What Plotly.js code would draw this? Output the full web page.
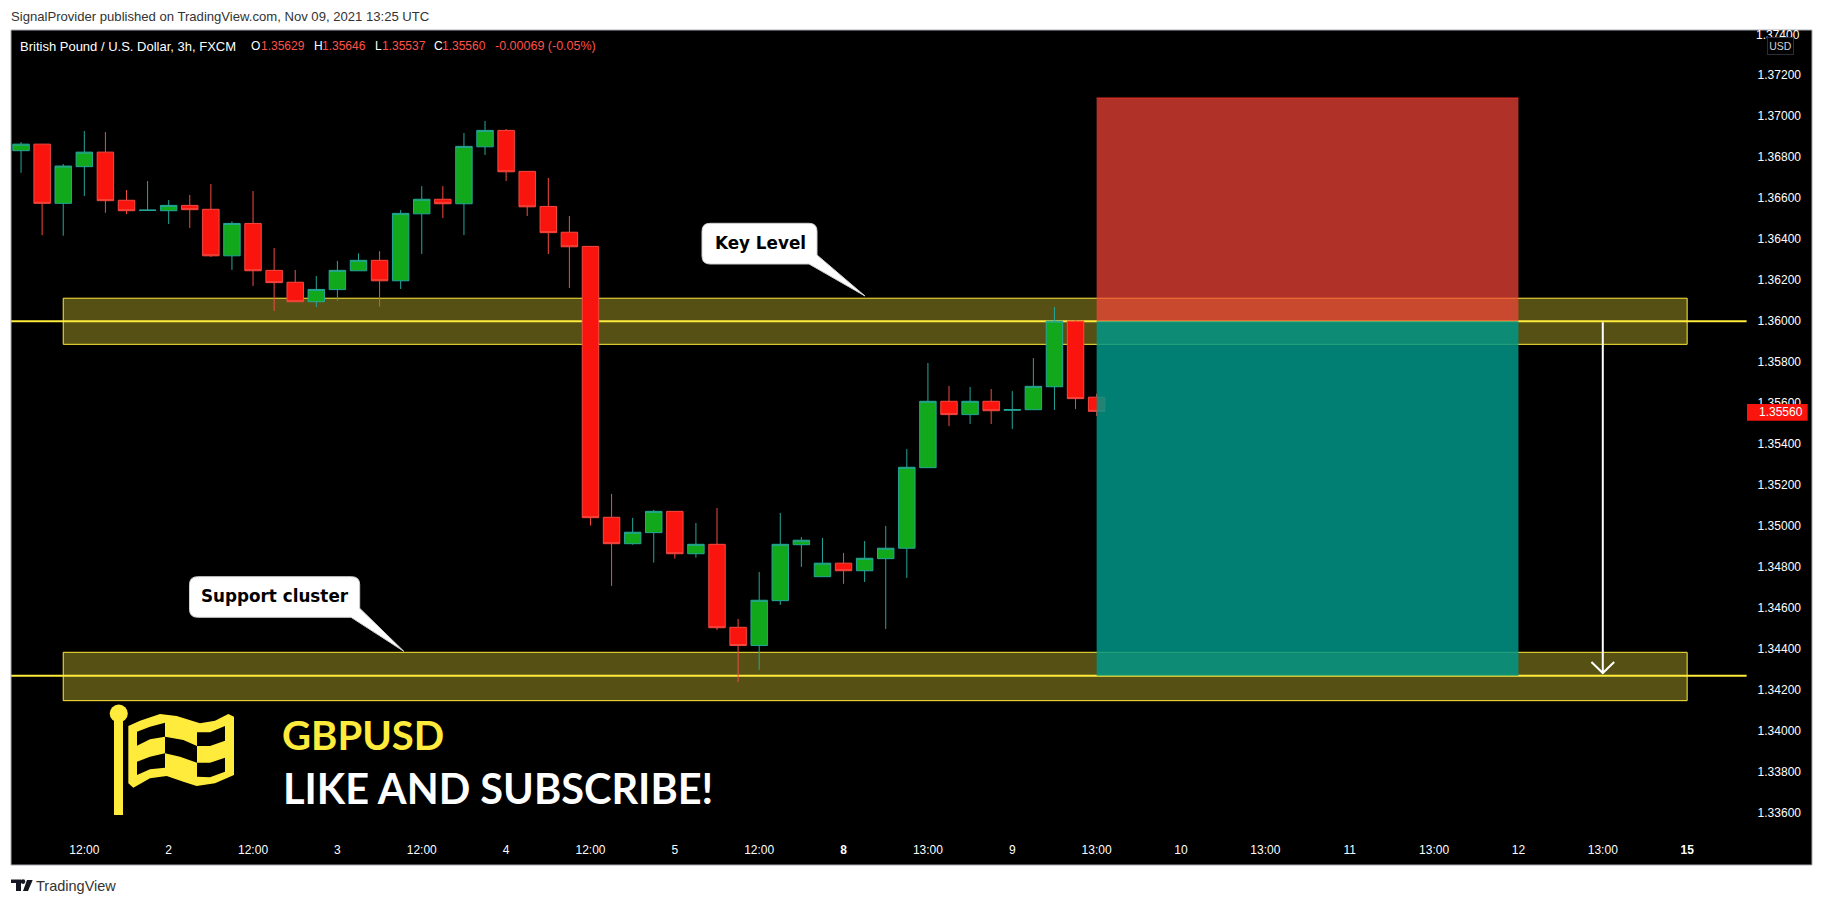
<!DOCTYPE html>
<html><head><meta charset="utf-8">
<script src="https://cdn.plot.ly/plotly-3.0.0.min.js"></script>
<style>html,body{margin:0;padding:0;background:#fff}#c{width:1824px;height:905px}</style>
</head><body><div id="c"></div>
<script>
const opens=[1.36832,1.36864,1.36575,1.36754,1.36825,1.36590,1.36540,1.36539,1.36565,1.36546,1.36319,1.36477,1.36248,1.36190,1.36095,1.36154,1.36246,1.36297,1.36197,1.36524,1.36595,1.36573,1.36851,1.36931,1.36731,1.36560,1.36434,1.36365,1.35043,1.34914,1.34968,1.35072,1.34865,1.34911,1.34506,1.34417,1.34636,1.34909,1.34753,1.34819,1.34782,1.34841,1.34892,1.35285,1.35609,1.35544,1.35609,1.35565,1.35568,1.35680,1.36000,1.35629];
const highs=[1.36874,1.36864,1.36767,1.36928,1.36923,1.36640,1.36684,1.36591,1.36616,1.36669,1.36487,1.36635,1.36357,1.36250,1.36220,1.36294,1.36331,1.36342,1.36542,1.36659,1.36659,1.36918,1.36977,1.36938,1.36731,1.36699,1.36513,1.36365,1.35157,1.35040,1.35079,1.35072,1.35015,1.35088,1.34547,1.34776,1.35064,1.34947,1.34942,1.34869,1.34927,1.35001,1.35376,1.35796,1.35684,1.35679,1.35669,1.35659,1.35820,1.36069,1.36006,1.35646];
const lows=[1.36724,1.36420,1.36417,1.36611,1.36529,1.36523,1.36540,1.36474,1.36455,1.36313,1.36250,1.36172,1.36050,1.36095,1.36069,1.36100,1.36246,1.36071,1.36157,1.36328,1.36503,1.36420,1.36811,1.36684,1.36513,1.36328,1.36162,1.35002,1.34708,1.34909,1.34822,1.34841,1.34846,1.34493,1.34239,1.34298,1.34615,1.34801,1.34753,1.34718,1.34727,1.34498,1.34747,1.35285,1.35488,1.35498,1.35498,1.35474,1.35568,1.35567,1.35571,1.35537];
const closes=[1.36864,1.36575,1.36757,1.36825,1.36588,1.36539,1.36542,1.36565,1.36544,1.36319,1.36477,1.36246,1.36188,1.36095,1.36155,1.36248,1.36297,1.36197,1.36526,1.36595,1.36573,1.36853,1.36931,1.36729,1.36558,1.36432,1.36363,1.35041,1.34914,1.34970,1.35072,1.34865,1.34911,1.34504,1.34417,1.34638,1.34911,1.34931,1.34819,1.34782,1.34843,1.34892,1.35287,1.35609,1.35544,1.35609,1.35563,1.35569,1.35682,1.36000,1.35622,1.35560];
const barIndex=opens.map((_,i)=>i);
const xTickIndex=[3,7,11,15,19,23,27,31,35,39,43,47,51,55,59,63,67,71,75,79];
const xTickLabels=['12:00','2','12:00','3','12:00','4','12:00','5','12:00','<b>8</b>','13:00','9','13:00','10','13:00','11','13:00','12','13:00','<b>15</b>'];
const yTicks=[1.336,1.338,1.340,1.342,1.344,1.346,1.348,1.350,1.352,1.354,1.356,1.358,1.360,1.362,1.364,1.366,1.368,1.370,1.372];
const topTickLabel='1.37400';
const keyLevel=1.36000, supportLevel=1.34270, stopLevel=1.37089;
const keyZone=[1.35887,1.36112], supportZone=[1.34148,1.34384];
const zoneSpan=[2,79], riskSpan=[51,71], levelSpan=[-0.4765,81.82];
const arrowX=[75,75], arrowY=[1.35995,1.34283];
const arrowHeadX=[74.46,75,75.54], arrowHeadY=[1.34337,1.34283,1.34337];
const lastPrice='1.35560';

const W=1824,H=905,ML=11,MR=12,MT=30,MB=40;
const X=p=>(p-ML)/(W-ML-MR), Y=p=>1-(p-MT)/(H-MT-MB);
const poly=pts=>pts.map((p,i)=>(i?'L':'M')+X(p[0]).toFixed(5)+','+Y(p[1]).toFixed(5)).join(' ')+' Z';
const pshape=(path,fill,extra)=>Object.assign({type:'path',xref:'paper',yref:'paper',path,fillcolor:fill,line:{width:0},layer:'above'},extra||{});
function bubble(x0,y0,x1,y1,r,tail){
 const P=(x,y)=>X(x).toFixed(5)+','+Y(y).toFixed(5);
 return 'M'+P(x0+r,y0)+' L'+P(x1-r,y0)+' Q'+P(x1,y0)+' '+P(x1,y0+r)+' L'+P(tail[1][0],tail[1][1])+' L'+P(tail[2][0],tail[2][1])+' L'+P(tail[0][0],tail[0][1])+' L'+P(x0+r,y1)+' Q'+P(x0,y1)+' '+P(x0,y1-r)+' L'+P(x0,y0+r)+' Q'+P(x0,y0)+' '+P(x0+r,y0)+' Z';
}
const flagPt=a=>a.map(q=>[100+q[0]/3,700+q[1]/3]);
const flagPath=[
 [[85,78],[120,62],[180,42],[230,48],[300,70],[345,62],[385,42],[402,50],[402,225],[345,250],[290,258],[250,245],[200,228],[150,235],[100,263],[85,250]],
 [[111,95],[150,80],[195,68],[195,110],[150,118],[111,137]],
 [[195,110],[250,120],[291,138],[291,188],[240,170],[195,160]],
 [[111,185],[150,170],[195,160],[195,203],[150,208],[111,225]],
 [[291,97],[330,97],[375,78],[375,122],[330,138],[291,138]],
 [[291,188],[330,188],[375,173],[375,215],[330,232],[291,230]]
].map(a=>poly(flagPt(a))).join(' ');

const yellow='#ffeb3b';
const shapes=[
 {type:'rect',xref:'x',yref:'y',x0:zoneSpan[0],x1:zoneSpan[1],y0:keyZone[0],y1:keyZone[1],fillcolor:'rgba(255,235,59,0.34)',line:{color:yellow,width:1},layer:'below'},
 {type:'rect',xref:'x',yref:'y',x0:zoneSpan[0],x1:zoneSpan[1],y0:supportZone[0],y1:supportZone[1],fillcolor:'rgba(255,235,59,0.34)',line:{color:yellow,width:1},layer:'below'},
 {type:'line',xref:'x',yref:'y',x0:levelSpan[0],x1:levelSpan[1],y0:keyLevel,y1:keyLevel,line:{color:yellow,width:2},layer:'below'},
 {type:'line',xref:'x',yref:'y',x0:levelSpan[0],x1:levelSpan[1],y0:supportLevel,y1:supportLevel,line:{color:yellow,width:2},layer:'below'},
 {type:'rect',xref:'x',yref:'y',x0:riskSpan[0],x1:riskSpan[1],y0:keyLevel,y1:stopLevel,fillcolor:'rgba(249,70,57,0.7)',line:{width:0},layer:'above'},
 {type:'line',xref:'x',yref:'y',x0:riskSpan[0],x1:riskSpan[1],y0:stopLevel,y1:stopLevel,line:{color:'#e8302a',width:1},layer:'above'},
 {type:'rect',xref:'x',yref:'y',x0:riskSpan[0],x1:riskSpan[1],y0:supportLevel,y1:keyLevel,fillcolor:'rgba(0,149,134,0.85)',line:{width:0},layer:'above'},
 pshape(bubble(702,223.3,817,264,8,[[809,264],[817,255],[865,296]]),'#ffffff',{line:{color:'#d0d0d0',width:1}}),
 pshape(bubble(189.5,576.7,359.7,617.3,8,[[351,617.3],[359.7,608.3],[403.8,651.3]]),'#ffffff',{line:{color:'#d0d0d0',width:1}}),
 pshape(poly([[1747,404],[1807.7,404],[1807.7,420.7],[1747,420.7]]),'#f9140d'),
 pshape(flagPath,yellow),
 pshape(poly([[114,716],[123,716],[123,815],[114,815]]),yellow),
 {type:'circle',xref:'paper',yref:'paper',x0:X(109.7),x1:X(127.8),y0:Y(704.5),y1:Y(722.5),fillcolor:yellow,line:{width:0},layer:'above'},
 pshape(poly([[11,879.5],[21,879.5],[21,891],[16,891],[16,883],[11,883]]),'#131722'),
 {type:'circle',xref:'paper',yref:'paper',x0:X(20.7),x1:X(25.3),y0:Y(879.3),y1:Y(883.9),fillcolor:'#131722',line:{width:0},layer:'above'},
 pshape(poly([[27,880],[32.7,880],[28,891],[23,891]]),'#131722'),
 {type:'rect',xref:'paper',yref:'paper',x0:0,x1:1,y0:0,y1:1,fillcolor:'rgba(0,0,0,0)',line:{color:'#a8abb3',width:1},layer:'above'}
];

const note=(text,x,y,color,size,family,extra)=>Object.assign({text,xref:'paper',yref:'paper',x:X(x),y:Y(y),xanchor:'left',yanchor:'middle',showarrow:false,borderpad:0,borderwidth:0,font:{color,size,family}},extra||{});
const sans='Liberation Sans, Arial, sans-serif', red='#ff5248';
const annotations=[
 note('SignalProvider published on TradingView.com, Nov 09, 2021 13:25 UTC',10.8,16.7,'#333333',13.1,sans),
 note('British Pound / U.S. Dollar, 3h, FXCM',20,46.2,'#ffffff',13,sans),
 note('O',251,46.2,'#ffffff',12,sans), note('1.35629',261,46.2,red,12,sans),
 note('H',313.6,46.2,'#ffffff',12,sans), note('1.35646',322,46.2,red,12,sans),
 note('L',374.5,46.2,'#ffffff',12,sans), note('1.35537',381.6,46.2,red,12,sans),
 note('C',434,46.2,'#ffffff',12,sans), note('1.35560',442,46.2,red,12,sans),
 note('-0.00069 (-0.05%)',495,46.2,red,12.5,sans),
 note('<b>Key Level</b>',715,243,'#000000',16.8,'DejaVu Sans'),
 note('<b>Support cluster</b>',201,595.7,'#000000',16.8,'DejaVu Sans'),
 note(lastPrice,1759,412,'#ffffff',12,sans),
 note(topTickLabel,1800,35,'#ffffff',12,sans,{xanchor:'right'}),
 note('USD',1780,46.5,'#d1d4dc',10.5,sans,{xanchor:'center',width:25,height:16,align:'center',bgcolor:'#000000',bordercolor:'#2a2e39',borderwidth:1}),
 note('<b>GBPUSD</b>',282,735,yellow,40,'Lato'),
 note('<b>LIKE AND SUBSCRIBE!</b>',282.5,787.5,'#ffffff',41.5,'Lato'),
 note('TradingView',36,886.5,'#333333',14.5,sans)
];

const traces=[
 {type:'candlestick',x:barIndex,open:opens,high:highs,low:lows,close:closes,
  increasing:{line:{color:'#26a69a',width:1},fillcolor:'#12a81b'},
  decreasing:{line:{color:'#f44a42',width:1},fillcolor:'#f9140d'},
  whiskerwidth:0,hoverinfo:'skip',showlegend:false},
 {type:'scatter',mode:'lines',x:arrowX,y:arrowY,line:{color:'#ffffff',width:2},hoverinfo:'skip',showlegend:false},
 {type:'scatter',mode:'lines',x:arrowHeadX,y:arrowHeadY,line:{color:'#ffffff',width:2},hoverinfo:'skip',showlegend:false}
];
const layout={
 width:W,height:H,margin:{l:ML,r:MR,t:MT,b:MB,pad:0},
 paper_bgcolor:'#ffffff',plot_bgcolor:'#000000',showlegend:false,
 boxgap:0.22,boxgroupgap:0,hovermode:false,dragmode:false,
 xaxis:{type:'linear',range:[-0.4765,84.92],rangeslider:{visible:false},showgrid:false,zeroline:false,showline:false,ticks:'',
  tickmode:'array',tickvals:xTickIndex,ticktext:xTickLabels,ticklabelposition:'inside',ticklabelstandoff:6,
  tickfont:{color:'#ffffff',size:12,family:sans}},
 yaxis:{type:'linear',side:'right',range:[1.33346,1.37421],showgrid:false,zeroline:false,showline:false,ticks:'',
  tickmode:'array',tickvals:yTicks,ticktext:yTicks.map(v=>v.toFixed(5)),ticklabelposition:'inside',ticklabelstandoff:8,
  tickfont:{color:'#ffffff',size:12,family:sans}},
 shapes,annotations
};
Plotly.newPlot('c',traces,layout,{displayModeBar:false,staticPlot:true});
</script></body></html>
